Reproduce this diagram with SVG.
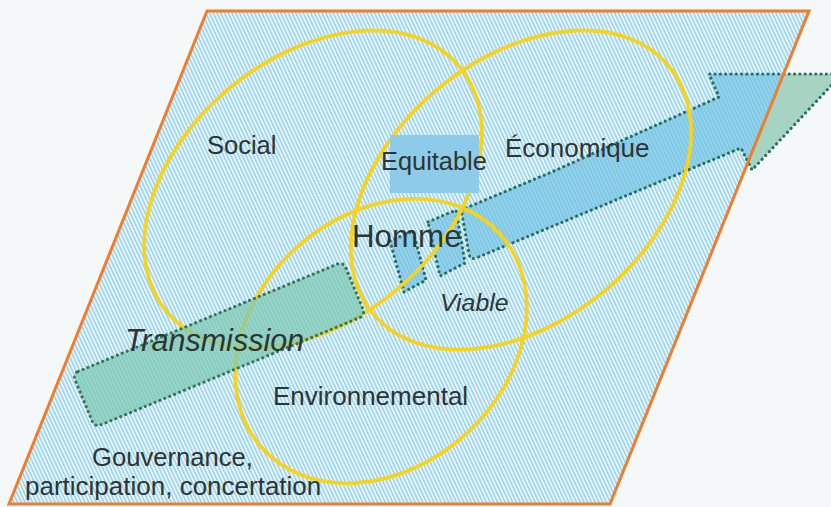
<svg xmlns="http://www.w3.org/2000/svg" width="831" height="507" viewBox="0 0 831 507">
  <defs>
    <pattern id="hatch" patternUnits="userSpaceOnUse" width="3.4" height="10" patternTransform="rotate(-25)">
      <rect x="0" y="0" width="3.4" height="10" fill="#e8f5fb"/>
      <rect x="0" y="0" width="1.5" height="10" fill="#97d2ed"/>
    </pattern>
    <clipPath id="inside">
      <polygon points="207,11 809,11 610,504 9,504"/>
    </clipPath>
    <clipPath id="outside">
      <path d="M0,0 H831 V507 H0 Z M207,11 L9,504 L610,504 L809,11 Z" clip-rule="evenodd"/>
    </clipPath>
    <path id="bigArrow" d="M466,208 L554,171 L719,97 L709,74 L842,74 L752,170 L741,148 L476,258 Q470,260 469,254 L462,214 Q461,210 466,208 Z"/>
  </defs>
  <style>
    .ell { fill: none; stroke: #f9d31a; stroke-width: 3.7; }
    .dots { fill: none; stroke: #246f5e; stroke-width: 3.1; stroke-dasharray: 0.1 5.2; stroke-linecap: round; stroke-linejoin: round; }
    .blue { fill: #6cc0e0; fill-opacity: 0.66; }
    .lbl { font-family: "Liberation Sans", Arial, sans-serif; fill: #2d3434; }
    .it { font-style: italic; }
  </style>

  <rect x="0" y="0" width="831" height="507" fill="#f5f8f9"/>

  <g id="plane">
    <polygon points="207,11 809,11 610,504 9,504" fill="url(#hatch)"/>
  </g>

  <g id="connectors">
    <g id="arrow-head-shaft">
      <use href="#bigArrow" fill="#a7d4c2" clip-path="url(#outside)"/>
      <use href="#bigArrow" class="blue" clip-path="url(#inside)"/>
      <use href="#bigArrow" class="dots"/>
    </g>
    <g id="arrow-piece-2">
      <polygon points="428,222 456,210 465,263 440,276" class="blue"/>
      <polygon points="428,222 456,210 465,263 440,276" class="dots"/>
    </g>
    <g id="arrow-piece-1">
      <polygon points="390,241 413,231 426,280 404,292" class="blue"/>
      <polygon points="390,241 413,231 426,280 404,292" class="dots"/>
    </g>
  </g>

  <g id="ellipse-social">
    <ellipse cx="313" cy="189" rx="191" ry="131" transform="rotate(-40 313 189)" class="ell"/>
  </g>
  <g id="ellipse-economique">
    <ellipse cx="521" cy="190" rx="193" ry="131" transform="rotate(-40 521 190)" class="ell"/>
  </g>
  <g id="ellipse-environnemental">
    <ellipse cx="381" cy="341" rx="160" ry="126" transform="rotate(-42 381 341)" class="ell"/>
  </g>

  <g id="equitable">
    <rect x="390" y="135" width="89" height="58" fill="#8ecbe8"/>
    <text x="381" y="170" class="lbl" font-size="25.4">Equitable</text>
  </g>

  <g id="transmission">
    <rect x="72.5" y="315.5" width="293" height="58" rx="6" transform="rotate(-22.5 219 344.5)" fill="#7cc7b0" fill-opacity="0.72"/>
    <rect x="72.5" y="315.5" width="293" height="58" rx="6" transform="rotate(-22.5 219 344.5)" class="dots" style="stroke:#37744f"/>
    <text x="125" y="351" class="lbl it" font-size="30.5">Transmission</text>
  </g>

  <g id="social"><text x="207" y="154" class="lbl" font-size="25.5">Social</text></g>
  <g id="economique"><text x="505" y="157" class="lbl" font-size="26">Économique</text></g>
  <g id="homme"><text x="352" y="247" class="lbl" font-size="31.3">Homme</text></g>
  <g id="viable"><text x="440" y="311" class="lbl it" font-size="24.8">Viable</text></g>
  <g id="environnemental"><text x="273" y="405" class="lbl" font-size="26">Environnemental</text></g>
  <g id="gouvernance">
    <text x="92" y="466" class="lbl" font-size="25.6">Gouvernance,</text>
    <text x="25" y="495" class="lbl" font-size="26">participation, concertation</text>
  </g>

  <g id="frame">
    <polygon points="207,11 809,11 610,504 9,504" fill="none" stroke="#f07d2c" stroke-width="3"/>
  </g>
</svg>
